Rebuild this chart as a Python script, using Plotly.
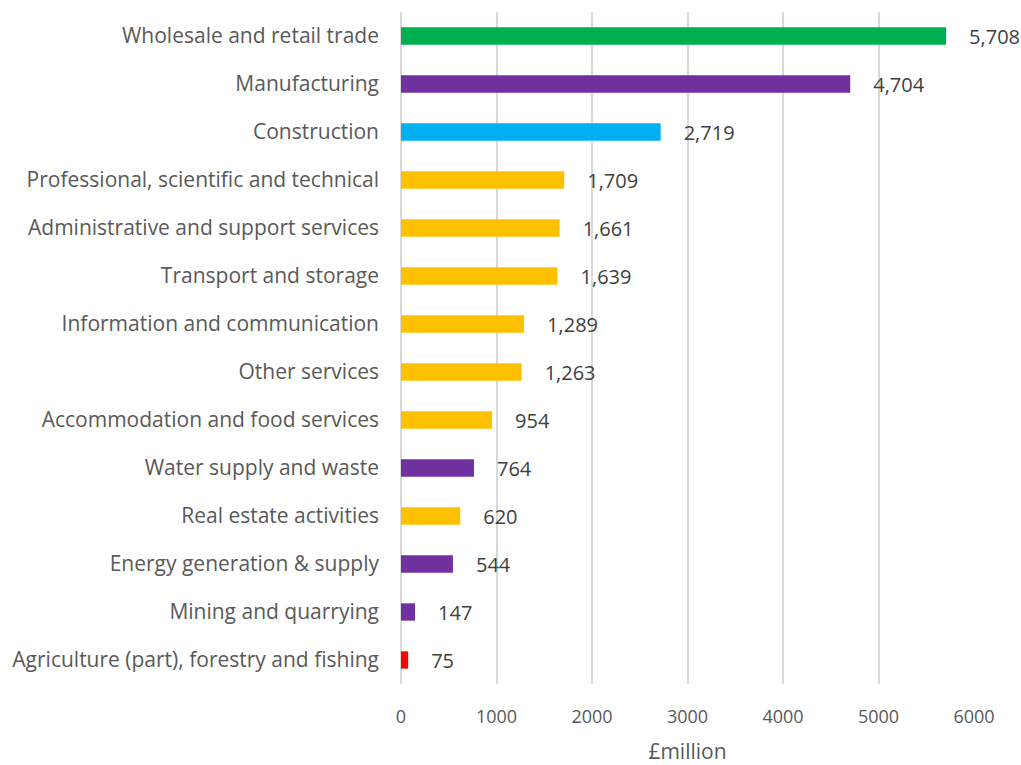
import plotly.graph_objects as go

categories = [
    "Wholesale and retail trade",
    "Manufacturing",
    "Construction",
    "Professional, scientific and technical",
    "Administrative and support services",
    "Transport and storage",
    "Information and communication",
    "Other services",
    "Accommodation and food services",
    "Water supply and waste",
    "Real estate activities",
    "Energy generation & supply",
    "Mining and quarrying",
    "Agriculture (part), forestry and fishing",
]
values = [5708, 4704, 2719, 1709, 1661, 1639, 1289, 1263, 954, 764, 620, 544, 147, 75]
colors = ["#00B050", "#7030A0", "#00B0F0", "#FFC000", "#FFC000", "#FFC000", "#FFC000",
          "#FFC000", "#FFC000", "#7030A0", "#FFC000", "#7030A0", "#7030A0", "#FF0000"]
x_ticks = [0, 1000, 2000, 3000, 4000, 5000, 6000]

FONT = "Open Sans"

fig = go.Figure(go.Bar(
    y=categories,
    x=values,
    orientation="h",
    marker=dict(color=colors, line=dict(width=0)),
    text=["\u2003" + f"{v:,}" for v in values],
    textposition="outside",
    constraintext="none",
    cliponaxis=False,
    textfont=dict(family=FONT, size=20, color="#404040"),
    hoverinfo="skip",
))

fig.update_layout(
    width=1021, height=765,
    margin=dict(l=401, r=47, t=12, b=81, autoexpand=False),
    paper_bgcolor="white", plot_bgcolor="white",
    bargap=0.64,
    showlegend=False,
    font=dict(family=FONT, size=19, color="#595959"),
    xaxis=dict(
        range=[0, 6000],
        tickvals=x_ticks,
        ticktext=[str(t) for t in x_ticks],
        automargin=False,
        showgrid=True, gridcolor="#D9D9D9", gridwidth=1.5,
        zeroline=True, zerolinecolor="#D9D9D9", zerolinewidth=1.5,
        showline=False,
        ticklabelstandoff=20,
        tickfont=dict(family=FONT, size=18, color="#595959"),
        title=dict(text="£million", font=dict(family=FONT, size=21, color="#595959"), standoff=23),
    ),
    yaxis=dict(
        autorange="reversed",
        automargin=False,
        showgrid=False, zeroline=False, showline=False,
        ticklabelstandoff=21,
        tickfont=dict(family=FONT, size=21, color="#595959"),
    ),
)

fig.write_html("out.html", config={"displayModeBar": False},
               post_script="document.body.style.margin='0';")
